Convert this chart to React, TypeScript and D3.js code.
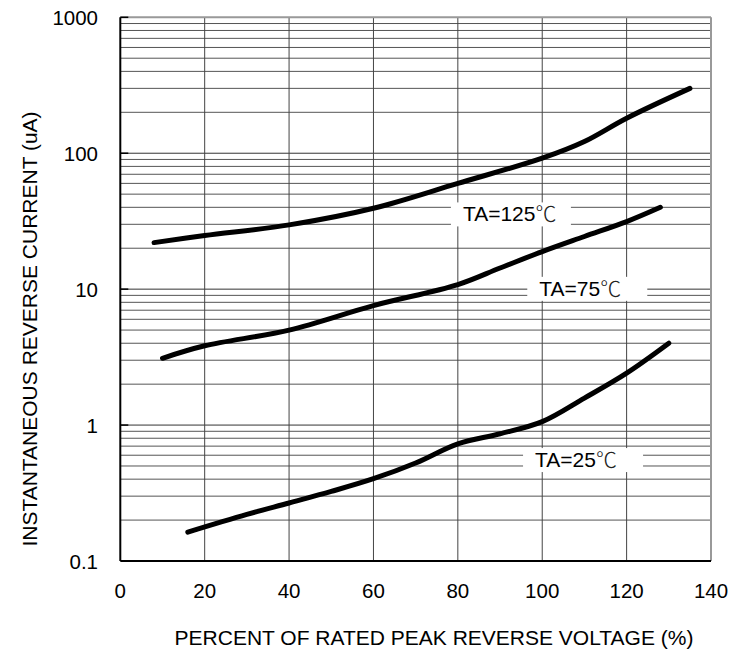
import React from "react";
import * as d3 from "d3";

const xTicks = [0, 20, 40, 60, 80, 100, 120, 140];
const yTickValues = [0.1, 1, 10, 100, 1000];
const yTickLabels = ["0.1", "1", "10", "100", "1000"];

const t125X = [8, 20, 40, 60, 80, 100, 110, 120, 135];
const t125Y = [22, 24.8, 29.7, 39.4, 60, 92, 122, 181, 300];
const t75X = [10, 20, 40, 60, 80, 90, 100, 110, 120, 128];
const t75Y = [3.1, 3.83, 5.0, 7.57, 10.8, 14.3, 18.9, 24.4, 31.4, 40];
const t25X = [16, 30, 40, 50, 60, 70, 80, 90, 100, 110, 120, 130];
const t25Y = [0.163, 0.22, 0.267, 0.325, 0.403, 0.526, 0.728, 0.863, 1.06, 1.58, 2.41, 4.0];

const seriesLabels = ["TA=125", "TA=75", "TA=25"];
const degreeSign = "℃";
// label anchor positions in data coords (x percent, y current)
const labelX = [81.2, 99.3, 98.3];
const labelY = [31.5, 8.93, 0.491];

const xTitle = "PERCENT OF RATED PEAK REVERSE VOLTAGE (%)";
const yTitle = "INSTANTANEOUS REVERSE CURRENT (uA)";

const W = 748;
const H = 654;
const L = 120.3, R = 711, T = 17.3, B = 561;
const FONT = "'Liberation Sans', Arial, sans-serif";

export default function App() {
  const x = d3.scaleLinear().domain([0, 140]).range([L, R]);
  const y = d3.scaleLog().domain([0.1, 1000]).range([B, T]);

  const minor: number[] = [];
  for (let e = -1; e < 3; e++) {
    for (let m = 2; m <= 9; m++) minor.push(m * Math.pow(10, e));
  }

  const line = d3
    .line<[number, number]>()
    .x((d) => x(d[0]))
    .y((d) => y(d[1]))
    .curve(d3.curveCatmullRom.alpha(0.5));

  const series = [
    t125X.map((v, i) => [v, t125Y[i]] as [number, number]),
    t75X.map((v, i) => [v, t75Y[i]] as [number, number]),
    t25X.map((v, i) => [v, t25Y[i]] as [number, number]),
  ];

  const labelFs = 21;

  return (
    <svg
      width={W}
      height={H}
      style={{ position: "absolute", left: 0, top: 0, background: "#fff" }}
      fontFamily={FONT}
    >
      <rect x={0} y={0} width={W} height={H} fill="#fff" />
      {minor.map((v, i) => (
        <line key={"m" + i} x1={L} x2={R} y1={y(v)} y2={y(v)} stroke="#555" strokeWidth={1} />
      ))}
      {yTickValues.slice(1, 4).map((v, i) => (
        <line key={"M" + i} x1={L} x2={R} y1={y(v)} y2={y(v)} stroke="#333" strokeWidth={1} />
      ))}
      {xTicks.slice(1, -1).map((v, i) => (
        <line key={"v" + i} x1={x(v)} x2={x(v)} y1={T} y2={B} stroke="#444" strokeWidth={1} />
      ))}
      <line x1={L} x2={R} y1={T} y2={T} stroke="#999" strokeWidth={2} />
      <line x1={R} x2={R} y1={T} y2={B} stroke="#999" strokeWidth={2} />
      <line x1={L} x2={L} y1={T} y2={B} stroke="#000" strokeWidth={2} />
      <line x1={L} x2={R} y1={B} y2={B} stroke="#000" strokeWidth={2} />
      {yTickValues.slice(1).map((v, i) => (
        <line key={"t" + i} x1={L} x2={L + 8} y1={y(v)} y2={y(v)} stroke="#000" strokeWidth={1.5} />
      ))}
      {seriesLabels.map((s, i) => {
        const tx = x(labelX[i]);
        const ty = y(labelY[i]);
        return <rect key={"b" + i} x={tx - 12} y={ty - 19} width={120} height={24} fill="#fff" />;
      })}
      {series.map((s, i) => (
        <path
          key={"c" + i}
          d={line(s) || ""}
          fill="none"
          stroke="#000"
          strokeWidth={5}
          strokeLinecap="round"
          strokeLinejoin="round"
        />
      ))}
      {seriesLabels.map((s, i) => (
        <text key={"l" + i} x={x(labelX[i])} y={y(labelY[i])} fontSize={labelFs} fill="#000">
          {s}
          <tspan fontFamily="'Noto Sans CJK SC', sans-serif" fontWeight={300} fill="#222">
            {degreeSign}
          </tspan>
        </text>
      ))}
      {xTicks.map((v, i) => (
        <text key={"xt" + i} x={x(v)} y={598} fontSize={20.5} textAnchor="middle" fill="#000">
          {v}
        </text>
      ))}
      {yTickValues.map((v, i) => (
        <text key={"yt" + i} x={98} y={y(v) + 7.5} fontSize={20.5} textAnchor="end" fill="#000">
          {yTickLabels[i]}
        </text>
      ))}
      <text x={434} y={645} fontSize={21} textAnchor="middle" fill="#000">
        {xTitle}
      </text>
      <text transform={`translate(37, 329) rotate(-90)`} fontSize={21} textAnchor="middle" fill="#000">
        {yTitle}
      </text>
    </svg>
  );
}
